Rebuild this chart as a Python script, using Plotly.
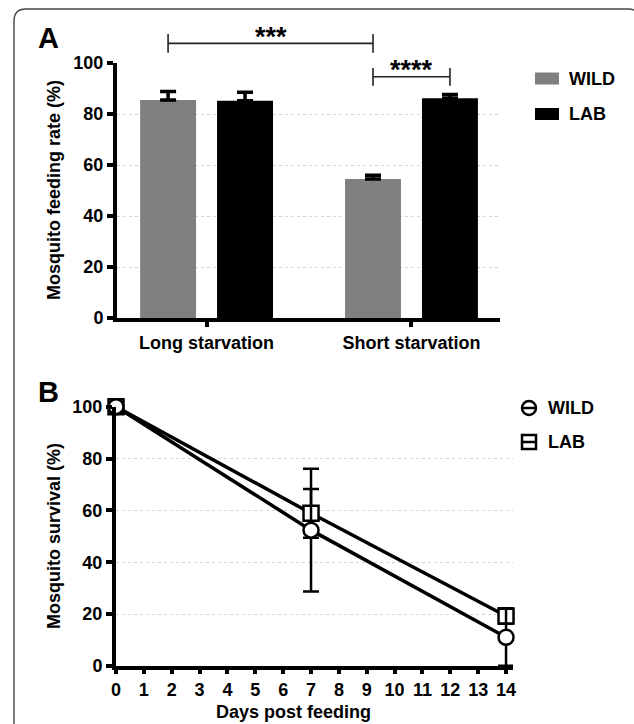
import plotly.graph_objects as go

# ---------------- data ----------------
groups = ["Long starvation", "Short starvation"]
wild_rate = [85.5, 54.5]
wild_rate_err = [3.3, 1.5]
lab_rate = [85.2, 86.2]
lab_rate_err = [3.3, 1.4]

days = [0, 7, 14]
wild_surv = [100, 52.4, 11.1]
wild_surv_err = [0, 23.7, 11.0]
lab_surv = [100, 58.9, 19.3]
lab_surv_err = [0, 9.4, 3.0]

y_ticks = [0, 20, 40, 60, 80, 100]
day_ticks = list(range(0, 15))
sig1, sig2 = "***", "****"

# ---------------- layout helpers ----------------
W, H = 634, 724
FONT = "Liberation Sans, Arial, sans-serif"
GRAY = "#808080"


def px(x):
    return x / W


def py(y):
    return 1 - y / H


BARGAP = 0.249
SLOT = (1 - BARGAP) / 2
OFF = SLOT / 2

fig = go.Figure()

# Panel A bars
fig.add_trace(go.Bar(
    x=groups, y=wild_rate, name="WILD", marker=dict(color=GRAY, line=dict(width=0)),
    error_y=dict(type="data", array=wild_rate_err, arrayminus=[0] * len(wild_rate),
                 color="black", thickness=3.5, width=8),
    xaxis="x", yaxis="y", showlegend=False))
fig.add_trace(go.Bar(
    x=groups, y=lab_rate, name="LAB", marker=dict(color="black", line=dict(width=0)),
    error_y=dict(type="data", array=lab_rate_err, arrayminus=[0] * len(lab_rate),
                 color="black", thickness=3.5, width=8),
    xaxis="x", yaxis="y", showlegend=False))

# Panel B lines
fig.add_trace(go.Scatter(
    x=days, y=lab_surv, name="LAB", mode="lines+markers",
    line=dict(color="black", width=3.5),
    marker=dict(symbol="square", size=15, color="white", line=dict(color="black", width=2.5)),
    error_y=dict(type="data", array=lab_surv_err, color="black", thickness=2.5, width=8),
    xaxis="x2", yaxis="y2", showlegend=False, cliponaxis=False))
fig.add_trace(go.Scatter(
    x=days, y=wild_surv, name="WILD", mode="lines+markers",
    line=dict(color="black", width=3.5),
    marker=dict(symbol="circle", size=15, color="white", line=dict(color="black", width=2.5)),
    error_y=dict(type="data", array=wild_surv_err, color="black", thickness=2.5, width=8),
    xaxis="x2", yaxis="y2", showlegend=False, cliponaxis=False))

tickfont = dict(family=FONT, size=18, color="black", weight="bold")
axis_common = dict(showline=True, linecolor="black", linewidth=4, ticks="outside",
                   ticklen=6, tickwidth=3.5, tickcolor="black", tickfont=tickfont,
                   zeroline=False, automargin=False)

fig.update_layout(
    width=W, height=H, margin=dict(l=0, r=0, t=0, b=0),
    paper_bgcolor="white", plot_bgcolor="white",
    barmode="group", bargap=BARGAP, bargroupgap=0.273,
    font=dict(family=FONT, color="black"),
    xaxis=dict(domain=[px(117), px(500)], range=[-0.437, 1.432], anchor="y",
               showgrid=False, ticklen=5, **{k: v for k, v in axis_common.items() if k != "ticklen"}),
    yaxis=dict(domain=[py(318), py(63)], range=[0, 100], anchor="x", tickvals=y_ticks,
               showgrid=True, gridcolor="#d4d4d4", griddash="dot", gridwidth=1, **axis_common),
    xaxis2=dict(domain=[px(116), px(513)], range=[0, 14.25], anchor="y2", tickvals=day_ticks,
                showgrid=False, ticklen=4, **{k: v for k, v in axis_common.items() if k != "ticklen"}),
    yaxis2=dict(domain=[py(666), py(406.7)], range=[0, 100], anchor="x2", tickvals=y_ticks,
                showgrid=True, gridcolor="#d4d4d4", griddash="dot", gridwidth=1, **axis_common),
)

shapes = []
annotations = []


def note(text, x, y, font, xanchor="center", yanchor="middle", **kw):
    annotations.append(dict(text=text, xref="paper", yref="paper", x=px(x), y=py(y),
                            xanchor=xanchor, yanchor=yanchor, showarrow=False, font=font, **kw))


# frame
shapes.append(dict(type="path", xref="paper", yref="paper", layer="below",
                   path=f"M {px(14)},{py(740)} L {px(14)},{py(21)} Q {px(14)},{py(9)} {px(26)},{py(9)} "
                        f"L {px(628)},{py(9)} Q {px(640)},{py(9)} {px(640)},{py(21)} L {px(640)},{py(740)}",
                   line=dict(color="#444444", width=1.4)))


# significance brackets (x from data categories, y in domain units of panel A)
def bracket(xa, xb, yv, tick_lo, tick_hi):
    lc = dict(color="#222222", width=1.6)
    shapes.append(dict(type="line", xref="x", yref="y domain", x0=xa, x1=xb, y0=yv / 100, y1=yv / 100, line=lc))
    for xv in (xa, xb):
        shapes.append(dict(type="line", xref="x", yref="y domain", x0=xv, x1=xv,
                           y0=tick_lo / 100, y1=tick_hi / 100, line=lc))


bracket(0 - OFF, 1 - OFF, 107.7, 104.0, 111.4)
bracket(1 - OFF, 1 + OFF, 94.6, 91.1, 98.0)
sfont = dict(family=FONT, size=27, color="black", weight="bold")
annotations.append(dict(text=sig1, xref="x", yref="y domain", x=(0 - OFF + 1 - OFF) / 2, y=1.035,
                        xanchor="center", yanchor="bottom", showarrow=False, font=sfont))
annotations.append(dict(text=sig2, xref="x", yref="y domain", x=1, y=0.905,
                        xanchor="center", yanchor="bottom", showarrow=False, font=sfont))

# panel letters
big = dict(family=FONT, size=29, color="black", weight="bold")
note("A", 48, 38, big)
note("B", 48, 392, big)

# axis titles
tfont = dict(family=FONT, size=18, color="black", weight="bold")
note("Mosquito feeding rate (%)", 54, 190, tfont, textangle=-90)
note("Mosquito survival (%)", 54, 536, tfont, textangle=-90)
note("Days post feeding", 293, 712, tfont)

# legend A
for (name, col, yc) in (("WILD", GRAY, 78.5), ("LAB", "black", 114)):
    shapes.append(dict(type="rect", xref="paper", yref="paper", x0=px(535), x1=px(559),
                       y0=py(yc + 6), y1=py(yc - 6), fillcolor=col, line=dict(width=0)))
    note(name, 567, yc, tfont, xanchor="left")

# legend B
r = 7
cx, cy = 529, 408
shapes.append(dict(type="circle", xref="paper", yref="paper", x0=px(cx - r), x1=px(cx + r),
                   y0=py(cy + r), y1=py(cy - r), line=dict(color="black", width=2.5)))
shapes.append(dict(type="line", xref="paper", yref="paper", x0=px(cx - r), x1=px(cx + r),
                   y0=py(cy), y1=py(cy), line=dict(color="black", width=2.5)))
note("WILD", 546, cy, tfont, xanchor="left")
sx, sy = 529, 442
shapes.append(dict(type="rect", xref="paper", yref="paper", x0=px(sx - r), x1=px(sx + r),
                   y0=py(sy + r), y1=py(sy - r), line=dict(color="black", width=2.5)))
shapes.append(dict(type="line", xref="paper", yref="paper", x0=px(sx - r), x1=px(sx + r),
                   y0=py(sy), y1=py(sy), line=dict(color="black", width=2.5)))
note("LAB", 546, sy, tfont, xanchor="left")

fig.update_layout(shapes=shapes, annotations=annotations)
fig.write_html("out.html")
